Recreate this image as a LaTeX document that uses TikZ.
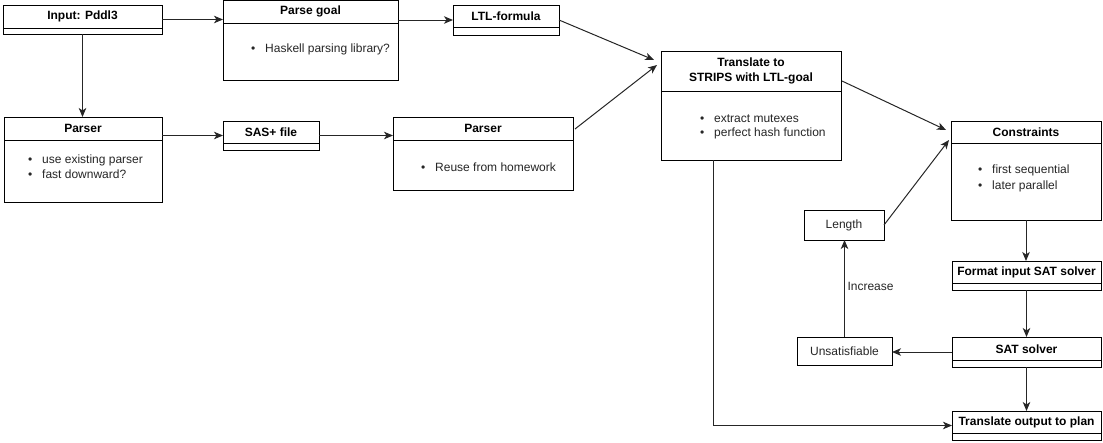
\documentclass[tikz,border=0pt]{standalone}
\usepackage{fontspec}
\setmainfont{Liberation Sans}
\usetikzlibrary{arrows.meta}
\tikzset{
  box/.style={draw=black, line width=1pt, anchor=north west, inner sep=0pt, outer sep=0pt, fill=white},
  sepline/.style={line width=1pt},
  hdr/.style={font=\bfseries\fontsize{12}{15}\selectfont, align=center, inner sep=0pt},
  lst/.style={font=\fontsize{12}{14}\selectfont, anchor=west, inner sep=0pt, text=black!85},
  simplebox/.style={draw=black, line width=1pt, anchor=north west, inner sep=0pt, outer sep=0pt, font=\fontsize{12}{14}\selectfont, text=black!85},
  arr/.style={line width=1pt, draw=black!85, -{Stealth[length=9pt,width=7.5pt,inset=2.5pt]}},
  lbl/.style={font=\fontsize{12}{14}\selectfont, text=black!85, inner sep=2.5pt},
}
\newcommand{\umlbox}[7]{%
  \node[box, minimum width=#4, minimum height=#5] (#1) at (#2,#3) {};
  \draw[sepline] ([shift={(0,#6)}]#1.north west) -- ([shift={(0,#6)}]#1.north east);
  \node[hdr] (#1-t) at ([shift={(0,#6/2)}]#1.north) {#7};
}
\newcommand{\bul}{\makebox[14pt][l]{\textbullet}}
\begin{document}
\begin{tikzpicture}[x=1pt, y=-1pt]
\useasboundingbox (0,0) rectangle (1103,442);

% boxes
\umlbox{inp}{3}{5}{159}{29}{23.5}{Input: Pddl3}
\umlbox{pg}{223}{0}{175}{80}{23}{Parse goal}
\umlbox{ltl}{453}{5}{106}{30}{22.5}{LTL-formula}
\umlbox{pl}{4}{117}{158}{85}{23}{Parser}
\umlbox{sas}{223}{121}{96}{29}{22.5}{SAS+ file}
\umlbox{pm}{393}{117}{180}{73}{23}{Parser}
\umlbox{tr}{661}{51}{180}{109}{40}{Translate to\\STRIPS with LTL-goal}
\umlbox{cons}{951}{121}{150}{99}{22}{Constraints}
\umlbox{fmt}{952}{261}{149}{29}{22}{Format input SAT solver}
\umlbox{sat}{952}{337}{149}{30}{23.5}{SAT solver}
\umlbox{out}{952}{411}{149}{29}{22}{Translate output to plan}

\node[simplebox, minimum width=80, minimum height=30] (len) at (804,210) {Length};
\node[simplebox, minimum width=95, minimum height=28] (un) at (797,337) {Unsatisfiable};

% bullet lists
\node[lst] (pg-l1) at (251,49.5) {\bul Haskell parsing library?};
\node[lst] (pl-l1) at (28,160.5) {\bul use existing parser};
\node[lst] (pl-l2) at (28,174.5) {\bul fast downward?};
\node[lst] (pm-l1) at (421,167.5) {\bul Reuse from homework};
\node[lst] (tr-l1) at (700,118.5) {\bul extract mutexes};
\node[lst] (tr-l2) at (700,133) {\bul perfect hash function};
\node[lst] (cons-l1) at (978,170.5) {\bul first sequential};
\node[lst] (cons-l2) at (978,186) {\bul later parallel};

% connectors
\draw[arr] (inp.east) -- (inp.east -| pg.west);
\draw[arr] (pg.east |- ltl.west) -- (ltl.west);
\draw[arr] (inp.south) -- (inp.south |- pl.north);
\draw[arr] (pl.east |- sas.west) -- (sas.west);
\draw[arr] (sas.east) -- (sas.east -| pm.west);
\draw[arr] (ltl.east) -- ([shift={(-7,9)}]tr.north west);
\draw[arr] ([shift={(2,12)}]pm.north east) -- ([shift={(-4,14)}]tr.north west);
\draw[arr] ([shift={(1,30)}]tr.north east) -- ([shift={(-5,9)}]cons.north west);
\draw[arr] (len.east) -- ([shift={(-2,19)}]cons.north west);
\draw[arr] (cons.south) -- (cons.south |- fmt.north);
\draw[arr] (fmt.south) -- (fmt.south |- sat.north);
\draw[arr] (sat.west) -- (sat.west -| un.east);
\draw[arr] (un.north) -- node[lbl, anchor=west, pos=0.52] (inc) {Increase} (un.north |- len.south);
\draw[arr] (sat.south) -- (sat.south |- out.north);
\draw[arr] ([xshift=-38pt]tr.south) |- (out.west);
\end{tikzpicture}
\end{document}
